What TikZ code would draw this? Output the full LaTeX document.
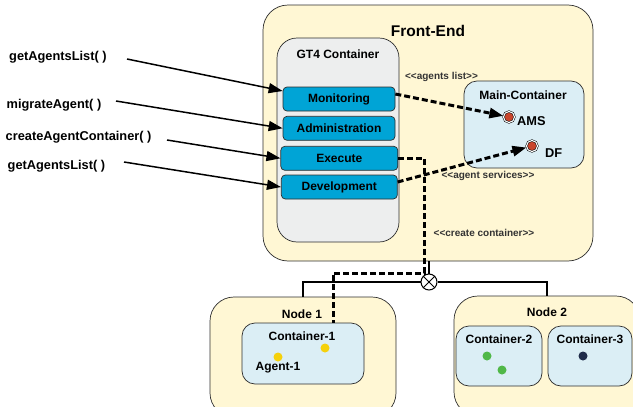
\documentclass[tikz,border=0pt]{standalone}
\usepackage{fontspec}
\setmainfont{Liberation Sans}
\usetikzlibrary{arrows.meta}
\definecolor{feyellow}{HTML}{FFF7D4}
\definecolor{gtgray}{HTML}{EDEEEE}
\definecolor{svcblue}{HTML}{00A4D6}
\definecolor{contblue}{HTML}{DBEEF5}
\definecolor{amsred}{HTML}{C9452C}
\definecolor{agentyellow}{HTML}{F5D10C}
\definecolor{agentgreen}{HTML}{50B848}
\definecolor{agentnavy}{HTML}{1F2C4A}
\definecolor{edgegray}{HTML}{2E2E2E}

% guillemet-free stereotype text
\newcommand{\stereo}[1]{<\kern0pt<#1>\kern0pt>}

\begin{document}
\begin{tikzpicture}[x=1pt, y=-1pt, >={Triangle[length=14pt,width=10pt]},
  font=\bfseries\fontsize{12}{14}\selectfont,
  shell/.style={draw=edgegray, fill=feyellow, line width=0.7pt, rounded corners=25pt, inner sep=0pt},
  gtbox/.style={draw=edgegray, fill=gtgray, line width=0.7pt, rounded corners=20pt, inner sep=0pt},
  cont/.style={draw=edgegray, fill=contblue, line width=0.7pt, rounded corners=13pt, inner sep=0pt},
  svc/.style={draw=edgegray, fill=svcblue, line width=0.7pt, rounded corners=4pt,
    minimum height=24pt, inner sep=0pt},
  agent/.style={circle, draw, fill=amsred, line width=0.5pt, double=white,
    double distance=1.1pt, minimum size=11pt, inner sep=0pt},
  call/.style={->, line width=1.5pt},
  ctrl/.style={line width=3pt, dash pattern=on 6pt off 3pt},
  link/.style={line width=1.1pt},
  stereo/.style={font=\bfseries\fontsize{10}{12}\selectfont, text=black!80},
  method/.style={anchor=west, inner sep=0pt, font=\bfseries\fontsize{12.8}{15}\selectfont}]
  \def\r{4.5pt}   % agent dot radius

  \clip (0,0) rectangle (633,407);

  % Front-End host
  \node[shell, minimum width=330pt, minimum height=256pt] (fe) at (428,133) {};
  \node[font=\bfseries\fontsize{15.5}{18}\selectfont] (fetitle) at (428,31) {Front-End};

  % GT4 container with its services
  \node[gtbox, minimum width=122pt, minimum height=204pt] (gt4) at (338,140) {};
  \node (gt4title) at (338,54) {GT4 Container};
  \node[svc, minimum width=112pt] (mon) at (339,99)    {Monitoring};
  \node[svc, minimum width=112pt] (adm) at (339,128.3) {Administration};
  \node[svc, minimum width=117pt] (exe) at (339.3,158.3) {Execute};
  \node[svc, minimum width=116pt] (dev) at (339.3,187) {Development};

  % Main-Container
  \node[cont, minimum width=120pt, minimum height=87pt] (main) at (524,124.5) {};
  \node (maintitle) at (523,95) {Main-Container};
  \node[agent] (ams) at (509,117) {};
  \node[agent] (df)  at (532,146) {};
  \node[anchor=west, inner sep=0pt, font=\bfseries\fontsize{12.8}{15}\selectfont] (amslbl) at (517,121) {AMS};
  \node[anchor=west, inner sep=0pt, font=\bfseries\fontsize{12.8}{15}\selectfont] (dflbl) at (545,153) {DF};

  % stereotypes
  \node[stereo] (stlist) at (441.5,77) {\stereo{agents list}};
  \node[stereo] (stserv) at (488,176) {\stereo{agent services}};
  \node[stereo] (stcrea) at (484,232.5) {\stereo{create container}};

  % remote nodes
  \node[shell, rounded corners=24pt, minimum width=186pt, minimum height=120pt] (n1) at (303,357) {};
  \node[shell, rounded corners=24pt, minimum width=186pt, minimum height=120pt] (n2) at (547,356) {};
  \node (n1title) at (302,314) {Node 1};
  \node (n2title) at (547,312) {Node 2};
  \node[cont, minimum width=122pt, minimum height=61pt] (c1) at (303,353.5) {};
  \node[cont, minimum width=86pt, minimum height=60pt]  (c2) at (499,356) {};
  \node[cont, minimum width=84pt, minimum height=60pt]  (c3) at (590,356) {};
  \node (c1title) at (302,336) {Container-1};
  \node (c2title) at (499,339) {Container-2};
  \node (c3title) at (590,339) {Container-3};
  \node (agent1) at (278,368) {Agent-1};

  % agents
  \foreach \px/\py/\c in {325/348/agentyellow, 278/357/agentyellow,
                          487/356/agentgreen, 502/370/agentgreen, 583/356/agentnavy}
    \fill[\c] (\px,\py) circle (\r);

  % network switch
  \node[circle, draw, fill=white, line width=1pt, minimum size=16pt, inner sep=0pt] (sw) at (429,282) {};
  \draw[line width=1pt] (sw.north west) -- (sw.south east) (sw.north east) -- (sw.south west);
  \draw[link] (sw.north) -- (sw.north |- fe.south);
  \draw[link] (sw.west) -| (n1.north);
  \draw[link] (sw.east) -| (n2.north);

  % client calls
  \node[method] (g1) at (9,57)    {getAgentsList( )};
  \node[method] (g2) at (6.5,105.5) {migrateAgent( )};
  \node[method] (g3) at (5.5,137.5) {createAgentContainer( )};
  \node[method] (g4) at (7.5,166)   {getAgentsList( )};
  \coordinate (t1) at (127,59);
  \coordinate (t2) at (116,101);
  \coordinate (t3) at (167,140);
  \coordinate (t4) at (124,162);
  \draw[call] (t1) -- ([yshift=8pt]mon.west);
  \draw[call] (t2) -- (adm.west);
  \draw[call] (t3) -- (exe.west);
  \draw[call] (t4) -- (dev.west);

  % internal messages
  \coordinate (bend) at (424,273);
  \draw[ctrl, ->] ([yshift=5pt]mon.east) -- (ams);
  \draw[ctrl, ->] ([yshift=5pt]dev.east) -- (df);
  \draw[ctrl] (exe.east) -| (bend) -| ([xshift=30pt]c1.north);
\end{tikzpicture}
\end{document}
